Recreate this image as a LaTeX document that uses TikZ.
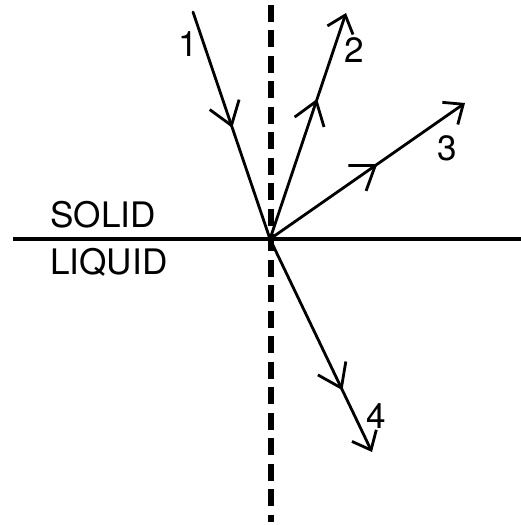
\documentclass[tikz,border=0pt]{standalone}
\usepackage{fontspec}
\setmainfont{TeX Gyre Heros}
\usetikzlibrary{arrows.meta, decorations.markings}

\tikzset{
  ray/.style={line width=1.6pt, line cap=round},
  endbarb/.style={-{Straight Barb[length=0.32cm, width=0.54cm]}},
  midbarb/.style={postaction={decorate}, decoration={markings,
      mark=at position #1 with {\arrow{Straight Barb[length=0.44cm, width=0.62cm]}}}},
  lbl/.style={font=\fontsize{20}{20}\selectfont, inner sep=0pt},
}

\begin{document}
\begin{tikzpicture}[x=0.02cm, y=-0.02cm]
\useasboundingbox (0,0) rectangle (521,525);

\coordinate (O) at (270,239);
\coordinate (hl) at (13,239);
\coordinate (hr) at (521,239);
\coordinate (dtop) at (271,5);
\coordinate (dbot) at (271,522);

% interface and normal
\draw[line width=2.4pt] (hl) -- (hr);
\draw[line width=3.1pt, dash pattern=on 0.34cm off 0.17cm] (dtop) -- (dbot);

\node[lbl, anchor=base west] (solid) at (50,227) {SOLID};
\node[lbl, anchor=base west] (liquid) at (50,274) {LIQUID};

% rays
\coordinate (s1) at (193,12);
\coordinate (e2) at (346,13);
\coordinate (e3) at (465,103);
\coordinate (e4) at (372,452);

\draw[ray, midbarb=0.51] (s1) -- (O);
\draw[ray, endbarb, midbarb=0.62] (O) -- (e2);
\draw[ray, endbarb, midbarb=0.55] (O) -- (e3);
\draw[ray, endbarb, midbarb=0.71] (O) -- (e4);

\node[lbl] (n1) at (188,44) {1};
\node[lbl] (n2) at (354,50) {2};
\node[lbl] (n3) at (447,148) {3};
\node[lbl] (n4) at (376,416) {4};
\end{tikzpicture}
\end{document}
